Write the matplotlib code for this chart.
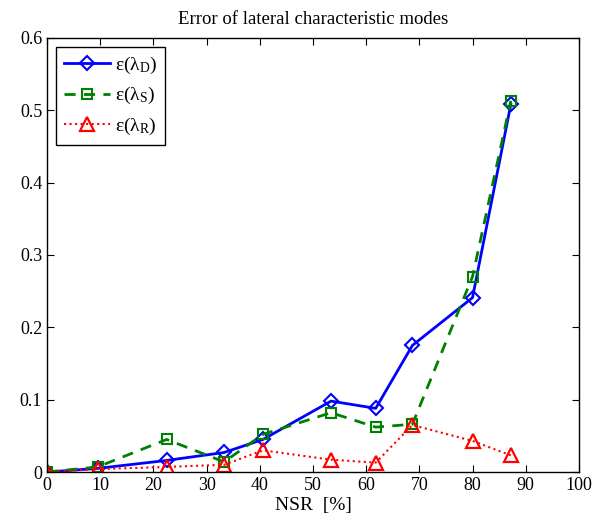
import matplotlib
matplotlib.use("Agg")
import matplotlib.pyplot as plt

plt.rcParams['font.family'] = ['Liberation Serif', 'DejaVu Serif']
plt.rcParams['mathtext.fontset'] = 'custom'
plt.rcParams['mathtext.rm'] = 'Liberation Serif'
plt.rcParams['mathtext.it'] = 'Liberation Serif:italic'

nsr = [0, 9.5, 22.5, 33.3, 40.6, 53.4, 61.8, 68.7, 80.0, 87.2]
err_D = [0.0, 0.005, 0.016, 0.027, 0.045, 0.098, 0.088, 0.175, 0.241, 0.508]
err_S = [0.0, 0.007, 0.045, 0.014, 0.052, 0.082, 0.062, 0.066, 0.270, 0.513]
err_R = [0.0, 0.004, 0.007, 0.010, 0.030, 0.017, 0.013, 0.065, 0.043, 0.023]

labels = ['ε(λ$_{\\mathrm{D}}$)', 'ε(λ$_{\\mathrm{S}}$)', 'ε(λ$_{\\mathrm{R}}$)']

fig = plt.figure(figsize=(6.03, 5.23), dpi=100)
ax = fig.add_axes([0.078, 0.0975, 0.882, 0.83])

ax.plot(nsr, err_D, '-', color=(0, 0, 1), lw=2, marker='D', ms=7,
        mfc='none', mec=(0, 0, 1), mew=1.5, label=labels[0])
ax.plot(nsr, err_S, '--', color=(0, 0.5, 0), lw=2, marker='s', ms=7,
        mfc='none', mec=(0, 0.5, 0), mew=1.5, label=labels[1], dashes=(4, 3))
ax.plot(nsr, err_R, ':', color=(1, 0, 0), lw=1.5, marker='^', ms=10,
        mfc='none', mec=(1, 0, 0), mew=1.6, label=labels[2])

ax.set_xlim(0, 100)
ax.set_ylim(0, 0.6)
ax.set_xticks(range(0, 101, 10))
ax.set_yticks([0, 0.1, 0.2, 0.3, 0.4, 0.5, 0.6])
ax.set_yticklabels(['0', '0.1', '0.2', '0.3', '0.4', '0.5', '0.6'])
ax.tick_params(direction='in', top=True, right=True, labelsize=13, length=5)
for s in ax.spines.values():
    s.set_linewidth(1)
ax.set_xlabel('NSR  [%]', fontsize=14, labelpad=2)
ax.set_title('Error of lateral characteristic modes', fontsize=13.5, pad=10)

leg = ax.legend(loc='upper left', fontsize=14, fancybox=False, edgecolor='black',
                framealpha=1, handlelength=2.4, handletextpad=0.25,
                borderaxespad=0.45, borderpad=0.4)
leg.get_frame().set_linewidth(1)

fig.savefig('out.png', dpi=100)
